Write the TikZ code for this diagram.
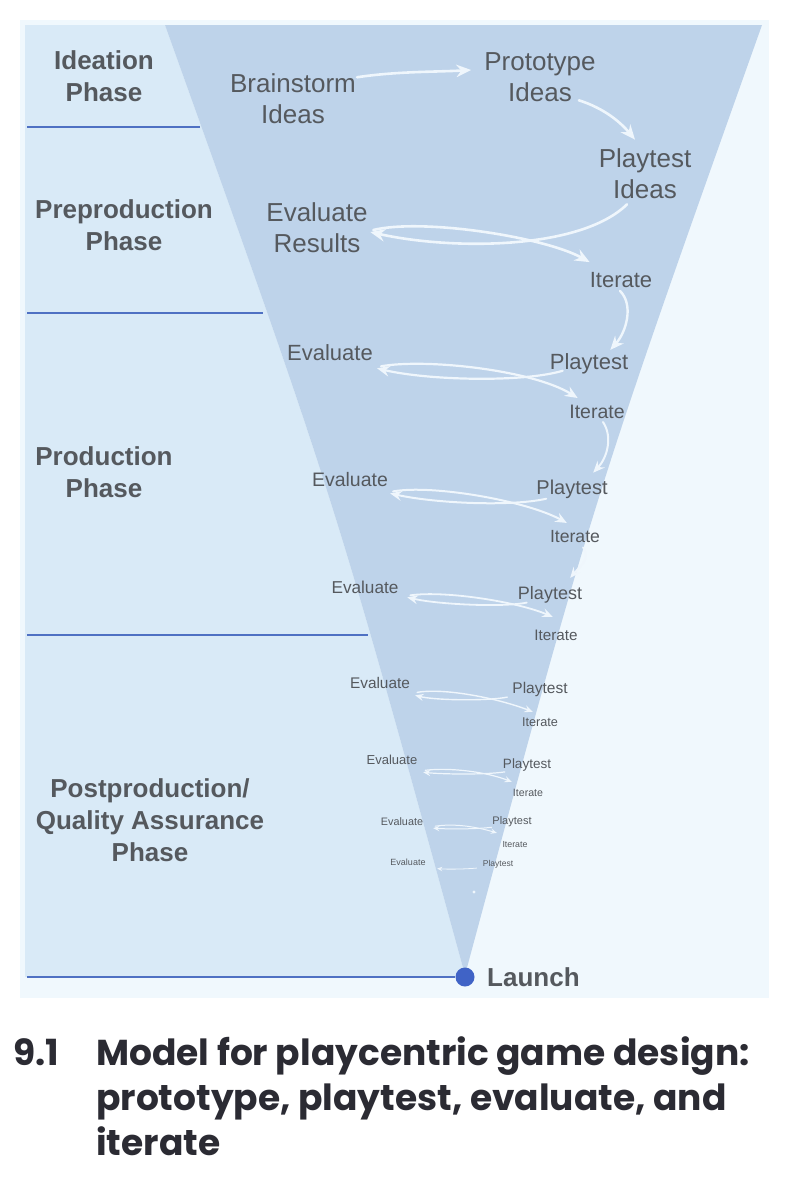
\documentclass[tikz,border=0pt]{standalone}
\usepackage{fontspec}
\setmainfont{Liberation Sans}
\newfontfamily\capfont{Poppins}
\usetikzlibrary{arrows.meta}

\definecolor{panelc}{HTML}{F0F8FD}
\definecolor{leftc}{HTML}{D9EAF7}
\definecolor{funnelc}{HTML}{BED3EA}
\definecolor{linec}{HTML}{4F71C3}
\definecolor{dotc}{HTML}{4063C6}
\definecolor{txtc}{HTML}{55595E}
\definecolor{arrc}{HTML}{EFF6FC}
\definecolor{capc}{HTML}{2B2B33}

\begin{document}
\begin{tikzpicture}[x=1pt,y=-1pt,
  phase/.style={font={\fontsize{26}{32}\selectfont\bfseries}, text=txtc, align=center, inner sep=0pt},
  big/.style={font={\fontsize{26}{31}\selectfont}, text=txtc, align=center, inner sep=0pt},
  lbl/.style={font={\fontsize{#1}{#1}\selectfont}, text=txtc, inner sep=0pt},
  arr/.style={draw=arrc, line width=#1, line cap=round,
    -{Stealth[length=1pt 5.3, width=1pt 4.4, inset=1pt 1.5]}},
  sep/.style={draw=linec, line width=2.8pt},
  capt/.style={font={\capfont\bfseries\fontsize{36}{44}\selectfont}, text=capc, inner sep=0pt, anchor=base west},
]
\path[use as bounding box] (0,0) rectangle (798,1186);
\fill[white] (0,0) rectangle (798,1186);

% panel and regions
\fill[panelc] (20,20) rectangle (769,998);
\fill[leftc] (25,25) -- (165,25) .. controls (335,500) .. (465,975) -- (465,977) -- (25,977) -- cycle;
\fill[funnelc] (165,25) -- (762,25) .. controls (593,500) .. (465,975) .. controls (335,500) .. (165,25) -- cycle;

% phase separators
\draw[sep] (27,127) -- (200,127);
\draw[sep] (27,313) -- (263,313);
\draw[sep] (27,635) -- (368,635);

% phase labels
\node[phase] (ph1) at (104,76) {Ideation\\Phase};
\node[phase] (ph2) at (124,225) {Preproduction\\Phase};
\node[phase] (ph3) at (104,472) {Production\\Phase};
\node[phase] (ph4) at (150,820) {Postproduction/\\Quality Assurance\\Phase};

% funnel labels level 1
\node[big] (bs) at (293,98.5) {Brainstorm\\Ideas};
\node[big] (proto) at (540,77.5) {Prototype\\Ideas};
\node[big] (pti) at (645,173.5) {Playtest\\Ideas};
\node[big] (er) at (317,227.5) {Evaluate\\Results};
\node[lbl=22] (it1) at (621,280) {Iterate};

% level 2
\node[lbl=22] (ev2) at (330,353) {Evaluate};
\node[lbl=22] (pt2) at (589,364.3) {Playtest};
\node[lbl=19.5] (it2) at (597,412) {Iterate};
% level 3
\node[lbl=19.5] (ev3) at (350,480) {Evaluate};
\node[lbl=20] (pt3) at (572,489.2) {Playtest};
\node[lbl=17.6] (it3) at (575,537) {Iterate};
% level 4
\node[lbl=17.2] (ev4) at (365,587) {Evaluate};
\node[lbl=18] (pt4) at (550,595) {Playtest};
\node[lbl=15.2] (it4) at (556,635) {Iterate};
% level 5
\node[lbl=15.4] (ev5) at (380,683) {Evaluate};
\node[lbl=15.5] (pt5) at (540,689.7) {Playtest};
\node[lbl=12.7] (it5) at (540,722) {Iterate};
% level 6
\node[lbl=13] (ev6) at (392,760) {Evaluate};
\node[lbl=13.5] (pt6) at (527,765.4) {Playtest};
\node[lbl=10.6] (it6) at (528,793) {Iterate};
% level 7
\node[lbl=10.8] (ev7) at (402,822) {Evaluate};
\node[lbl=11] (pt7) at (512,821.2) {Playtest};
\node[lbl=8.8] (it7) at (515,845) {Iterate};
% level 8
\node[lbl=9] (ev8) at (408,862) {Evaluate};
\node[lbl=8.5] (pt8) at (498,863.9) {Playtest};

% launch
\node[circle, fill=dotc, minimum size=19pt, inner sep=0pt] (dot) at (465,977) {};
\coordinate (l4) at (27,977);
\draw[sep] (l4) -- (dot);
\node[font={\fontsize{26}{26}\selectfont\bfseries}, text=txtc, inner sep=0pt, anchor=west] (launch) at (487,977) {Launch};

% arrows level 1
\draw[arr=2.6pt] ([xshift=1pt,yshift=-4pt]bs.north east) .. controls +(40,-6) and +(-35,2) .. ([xshift=-13pt,yshift=7.5pt]proto.west);
\draw[arr=2.6pt] ([xshift=-17pt,yshift=2pt]proto.south east) .. controls +(25,8) and +(-15,-18) .. ([xshift=-10pt,yshift=8.6pt]pti.north);
\draw[arr=2.6pt] ([xshift=-18pt,yshift=-5.6pt]pti.south) .. controls +(-47,46) and +(80,18) .. ([xshift=2.5pt,yshift=-4.5pt]er.east);
\draw[arr=2.6pt] ([xshift=5.5pt,yshift=-2.5pt]er.east) .. controls +(50,-12) and +(-45,-25) .. ([yshift=10pt]it1.north west);
\draw[arr=2.4pt] ([xshift=-1pt,yshift=-3pt]it1.south) .. controls +(14,14) and +(16,-18) .. ([xshift=-18pt,yshift=4pt]pt2.north east);

% level 2 loop
\draw[arr=2.2pt] ([xshift=13pt,yshift=4pt]pt2.south west) .. controls +(-40,12) and +(50,12) .. ([xshift=4pt,yshift=-7pt]ev2.south east);
\draw[arr=2.2pt] ([xshift=8pt,yshift=-5pt]ev2.south east) .. controls +(45,-8) and +(-45,-28) .. ([xshift=8.5pt,yshift=7pt]it2.north west);
\draw[arr=2pt] ([xshift=6pt,yshift=-3pt]it2.south) .. controls +(10,15) and +(14,-15) .. ([xshift=-14.6pt,yshift=7pt]pt3.north east);

% level 3 loop
\draw[arr=2pt] ([xshift=10pt]pt3.south west) .. controls +(-35,8) and +(45,10) .. ([xshift=2pt,yshift=-6pt]ev3.south east);
\draw[arr=2pt] ([xshift=5pt,yshift=-4pt]ev3.south east) .. controls +(40,-7) and +(-40,-22) .. ([xshift=17pt,yshift=7.7pt]it3.north west);
\draw[arr=1.8pt] ([xshift=8pt,yshift=-4pt]it3.south) .. controls +(8,12) and +(10,-12) .. ([xshift=-12pt,yshift=8.6pt]pt4.north east);

% level 4 loop
\draw[arr=1.8pt] ([xshift=9pt,yshift=1pt]pt4.south west) .. controls +(-25,5) and +(30,7) .. ([xshift=8.6pt,yshift=-3.8pt]ev4.south east);
\draw[arr=1.8pt] ([xshift=11.6pt,yshift=-1.8pt]ev4.south east) .. controls +(35,-5) and +(-35,-15) .. ([xshift=18.5pt,yshift=12.6pt]it4.north west);

% level 5 loop
\draw[arr=1.4pt] ([xshift=-5pt]pt5.south west) .. controls +(-20,4) and +(20,5) .. ([xshift=5pt,yshift=-6.5pt]ev5.south east);
\draw[arr=1.4pt] ([xshift=7pt,yshift=-3.5pt]ev5.south east) .. controls +(30,-5) and +(-30,-12) .. ([xshift=11pt,yshift=5.5pt]it5.north west);

% level 6 loop
\draw[arr=1.2pt] ([xshift=2pt]pt6.south west) .. controls +(-20,3) and +(20,2) .. ([xshift=5.7pt,yshift=-7.3pt]ev6.south east);
\draw[arr=1.2pt] ([xshift=7.7pt,yshift=-5.3pt]ev6.south east) .. controls +(25,-3) and +(-25,-10) .. ([xshift=-1pt,yshift=7.2pt]it6.north west);

% level 7 loop
\draw[arr=1pt] ([xshift=-0.6pt,yshift=-0.7pt]pt7.south west) .. controls +(-15,2) and +(15,1) .. ([xshift=10pt,yshift=-2pt]ev7.south east);
\draw[arr=1pt] ([xshift=12pt,yshift=0pt]ev7.south east) .. controls +(20,-3) and +(-20,-6) .. ([xshift=-5.5pt,yshift=8.8pt]it7.north west);

% level 8
\draw[arr=0.8pt] ([xshift=-6pt]pt8.south west) .. controls +(-10,1) and +(10,1) .. ([xshift=11.5pt,yshift=-3pt]ev8.south east);
\fill[arrc] (474,892) circle (1.6);

% caption
\node[capt] (num) at (13,1065) {9.1};
\node[capt] (cap1) at (96,1065) {Model for playcentric game design:};
\node[capt] (cap2) at (96,1110) {prototype, playtest, evaluate, and};
\node[capt] (cap3) at (96,1155) {iterate};
\end{tikzpicture}
\end{document}
